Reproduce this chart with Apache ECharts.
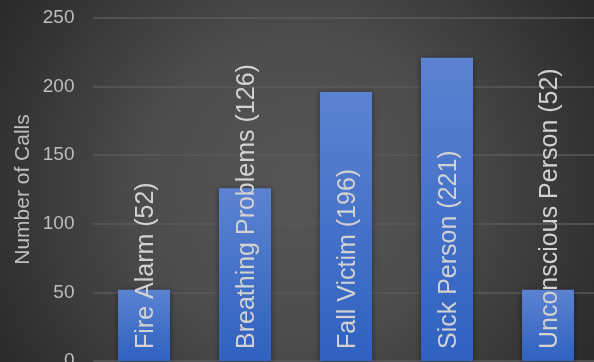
<!DOCTYPE html>
<html>
<head>
<meta charset="utf-8">
<script src="https://cdn.jsdelivr.net/npm/echarts@6/dist/echarts.min.js"></script>
<style>
  html, body { margin: 0; padding: 0; }
  #chart { width: 594px; height: 362px; }
</style>
</head>
<body>
<div id="chart"></div>
<script>
// Emergency call types and their counts
const categories = ['Fire Alarm', 'Breathing Problems', 'Fall Victim', 'Sick Person', 'Unconscious Person'];
const callCounts = [52, 126, 196, 221, 52];
const yTicks = [0, 50, 100, 150, 200, 250];

const chart = echarts.init(document.getElementById('chart'), null, { renderer: 'canvas' });

const option = {
  animation: false,
  backgroundColor: {
    type: 'radial', x: 0.5, y: 0.52, r: 0.95,
    colorStops: [
      { offset: 0, color: '#565656' },
      { offset: 0.45, color: '#4c4c4c' },
      { offset: 1, color: '#2a2a2a' }
    ]
  },
  grid: { left: 93.5, top: 18, width: 505, bottom: 1, containLabel: false, outerBoundsMode: 'none' },
  xAxis: {
    type: 'category',
    data: categories,
    axisLine: { show: false },
    axisTick: { show: false },
    axisLabel: { show: false }
  },
  yAxis: {
    type: 'value',
    min: yTicks[0],
    max: yTicks[yTicks.length - 1],
    interval: yTicks[1] - yTicks[0],
    name: 'Number of Calls',
    nameLocation: 'middle',
    nameGap: 60,
    nameMoveOverlap: false,
    nameTextStyle: { color: '#bdbdbd', fontSize: 21, fontFamily: 'Liberation Sans' },
    axisLine: { show: false },
    axisTick: { show: false },
    axisLabel: { color: '#bdbdbd', fontSize: 19, margin: 19, fontFamily: 'Liberation Sans' },
    splitLine: { lineStyle: { color: '#5a5a5a', width: 1.5 } }
  },
  series: [{
    type: 'bar',
    data: callCounts,
    barWidth: 52,
    itemStyle: {
      color: {
        type: 'linear', x: 0, y: 0, x2: 0, y2: 1,
        colorStops: [
          { offset: 0, color: '#5b83d1' },
          { offset: 1, color: '#2f61c0' }
        ]
      },
      shadowColor: 'rgba(0,0,0,0.45)',
      shadowBlur: 6,
      shadowOffsetX: 0,
      shadowOffsetY: 1
    },
    label: {
      show: true,
      position: 'insideBottom',
      distance: 12,
      rotate: 90,
      align: 'left',
      verticalAlign: 'middle',
      offset: [0, 2],
      formatter: p => p.name + ' (' + p.value + ')',
      color: '#d2d2d2',
      fontSize: 25,
      fontFamily: 'Liberation Sans'
    }
  }]
};

chart.setOption(option);
</script>
</body>
</html>
